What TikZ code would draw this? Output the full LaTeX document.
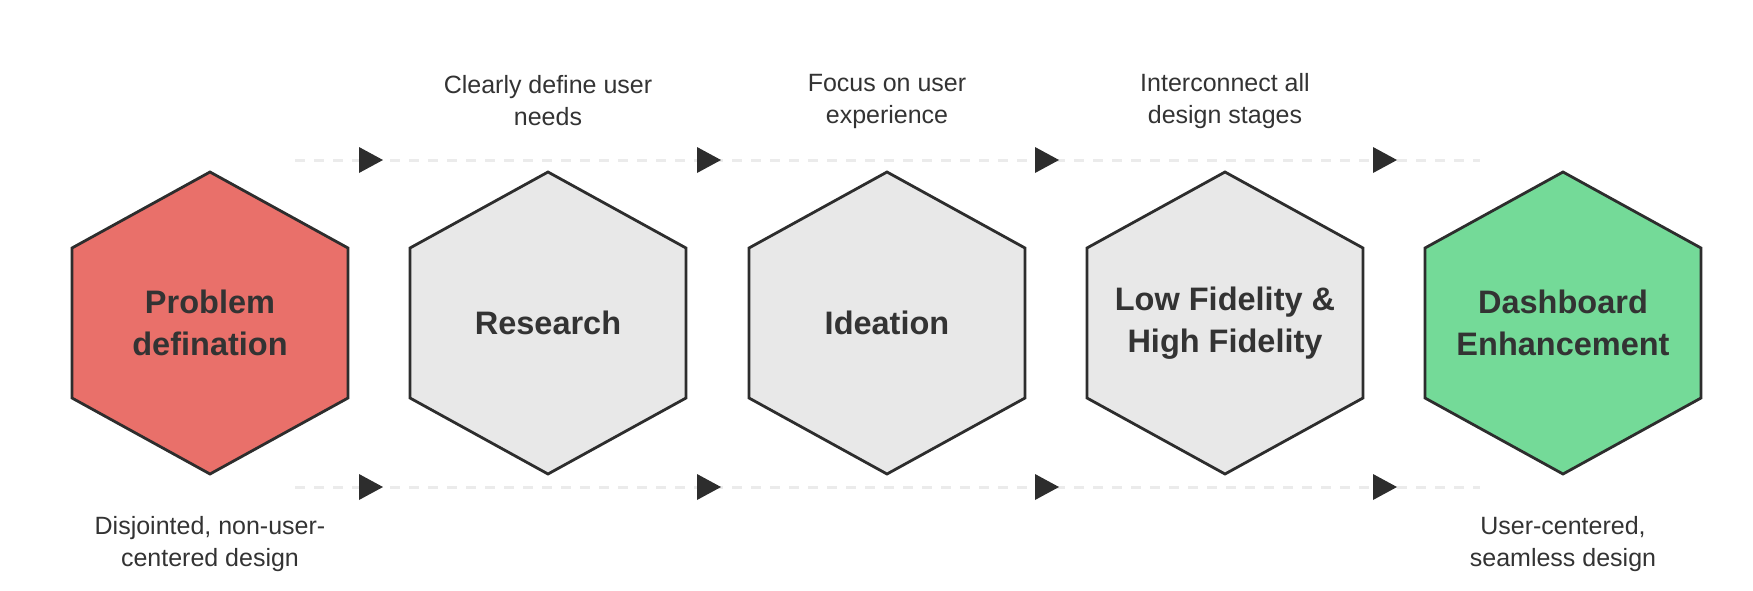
\documentclass[tikz,border=0pt]{standalone}
\usepackage{fontspec}
\setmainfont{Liberation Sans}
\definecolor{hexred}{HTML}{E9706A}
\definecolor{hexgrey}{HTML}{E8E8E8}
\definecolor{hexgreen}{HTML}{74DA98}
\definecolor{edge}{HTML}{2D2D2D}
\definecolor{ink}{HTML}{333333}
\definecolor{dashc}{HTML}{EBEBEB}
\tikzset{
  hexline/.style={draw=edge, line width=2.8pt, line join=miter},
  title/.style={text=ink, font=\fontsize{32.5}{42}\selectfont\bfseries, align=center},
  note/.style={text=ink, font=\fontsize{25}{32}\selectfont, align=center},
  dashline/.style={draw=dashc, line width=3pt, dash pattern=on 10pt off 9pt},
  tip/.style={fill=edge}
}
\begin{document}
\begin{tikzpicture}[x=1pt,y=-1pt]
\useasboundingbox (0,0) rectangle (1753,590);
% dashed connectors
\coordinate (ts) at (295,160);
\coordinate (te) at (1480,160);
\coordinate (bs) at (295,487);
\coordinate (be) at (1480,487);
\draw[dashline] (ts) -- (te);
\draw[dashline] (bs) -- (be);
% arrow heads
\foreach \n/\x in {1/371,2/709,3/1047,4/1385}{
  \coordinate (a\n) at (\x,160);
  \coordinate (b\n) at (\x,487);
  \fill[tip] (a\n) ++(-12,-13) -- ++(24,13) -- ++(-24,13) -- cycle;
  \fill[tip] (b\n) ++(-12,-13) -- ++(24,13) -- ++(-24,13) -- cycle;
}
% hexagons
\foreach \x/\col in {210/hexred,548/hexgrey,887/hexgrey,1225/hexgrey,1563/hexgreen}{
  \draw[hexline, fill=\col] (\x,172) -- (\x+138,248) -- (\x+138,398) -- (\x,474) -- (\x-138,398) -- (\x-138,248) -- cycle;
}
% titles
\node[title] (h1) at (210,323) {Problem\\defination};
\node[title] (h2) at (548,323) {Research};
\node[title] (h3) at (887,323) {Ideation};
\node[title] (h4) at (1225,323) {Low Fidelity \&\\High Fidelity};
\node[title] (h5) at (1563,323) {Dashboard\\Enhancement};
% notes
\node[note] (n2) at (548,101) {Clearly define user\\needs};
\node[note] (n3) at (887,101) {Focus on user\\experience};
\node[note] (n4) at (1225,101) {Interconnect all\\design stages};
\node[note] (n1) at (210,544) {Disjointed, non-user-\\centered design};
\node[note] (n5) at (1563,544) {User-centered,\\seamless design};
\end{tikzpicture}
\end{document}
